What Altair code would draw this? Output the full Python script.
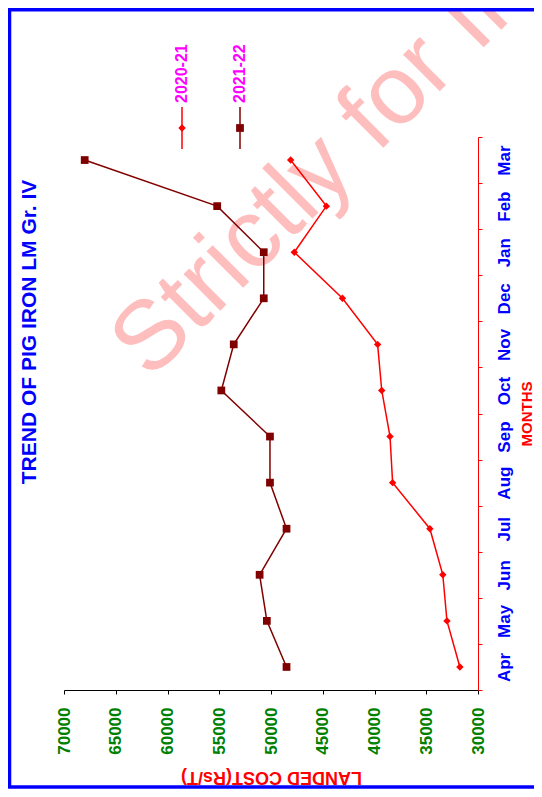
import altair as alt
import pandas as pd

months = ["Apr", "May", "Jun", "Jul", "Aug", "Sep", "Oct", "Nov", "Dec", "Jan", "Feb", "Mar"]
series_names = ["2020-21", "2021-22"]
cost_2020_21 = [31750, 33000, 33400, 34650, 38250, 38500, 39300, 39700, 43100, 47750, 44650, 48100]
cost_2021_22 = [48500, 50400, 51100, 48500, 50100, 50100, 54800, 53600, 50700, 50700, 55200, 68000]
cost_ticks = [30000, 35000, 40000, 45000, 50000, 55000, 60000, 65000, 70000]
series_colors = ["#FF0000", "#800000"]
series_shapes = ["diamond", "square"]

rows = []
for name, vals in zip(series_names, [cost_2020_21, cost_2021_22]):
    for i, (m, v) in enumerate(zip(months, vals)):
        rows.append({"Series": name, "Month": m, "Idx": i, "Cost": v})
df = pd.DataFrame(rows)

W, H = 414, 553
PL, PT, PR, PB = 56, 129, 56, 99
FONT = "Liberation Sans"

xenc = alt.X("Cost:Q",
             scale=alt.Scale(domain=[30000, 70000], reverse=True, nice=False, zero=False),
             axis=alt.Axis(values=cost_ticks, format="d", labelAngle=270, labelAlign="right",
                           labelBaseline="middle", labelColor="#008000", labelFontSize=17,
                           labelFontWeight="bold", labelPadding=13, tickSize=4, tickColor="black",
                           domainColor="black", grid=False, title="LANDED COST(Rs/T)",
                           titleAngle=180, titleColor="#FF0000", titleFontSize=18,
                           titleFontWeight="bold", titlePadding=31))
yenc = alt.Y("Month:O", sort=list(reversed(months)),
             scale=alt.Scale(type="band", paddingInner=0, paddingOuter=0),
             axis=alt.Axis(orient="right", labelAngle=270, labelAlign="center", labelBaseline="top",
                           labelColor="#0000FF", labelFontSize=17, labelFontWeight="bold",
                           labelPadding=14, tickSize=4, tickColor="#FF0000", domainColor="#FF0000",
                           tickBand="extent", grid=False, title="MONTHS", titleAngle=270,
                           titleColor="#FF0000", titleFontSize=15, titleFontWeight="bold",
                           titlePadding=22))
color = alt.Color("Series:N", scale=alt.Scale(domain=series_names, range=series_colors), legend=None)
shape = alt.Shape("Series:N", scale=alt.Scale(domain=series_names, range=series_shapes), legend=None)

base = alt.Chart(df)

watermark = alt.Chart(pd.DataFrame({"t": ["Strictly for Internal Use"]})).mark_text(
    font=FONT, fontSize=98, angle=315, align="left", baseline="alphabetic", color="#FFBEBE"
).encode(x=alt.value(86), y=alt.value(244), text="t:N")

lines = base.mark_line(strokeWidth=1.5).encode(x=xenc, y=yenc, color=color, order="Idx:Q", detail="Series:N")
points = base.mark_point(filled=True, opacity=1).encode(
    x="Cost:Q", y=alt.Y("Month:O", sort=list(reversed(months))), color=color, shape=shape,
    size=alt.Size("Series:N", scale=alt.Scale(domain=series_names, range=[55, 60]), legend=None))

title = alt.Chart(pd.DataFrame({"t": ["TREND OF PIG IRON LM Gr. IV"]})).mark_text(
    font=FONT, fontSize=21, fontWeight="bold", angle=270, align="center", baseline="middle",
    color="#0000FF").encode(x=alt.value(-34), y=alt.value(195), text="t:N")

legend_layers = []
legend_x = [118, 176]
legend_size = [55, 60]
for name, lx, col, shp, sz in zip(series_names, legend_x, series_colors, series_shapes, legend_size):
    ld = pd.DataFrame({"t": [name]})
    legend_layers.append(alt.Chart(ld).mark_rule(color=col, strokeWidth=1.5).encode(
        x=alt.value(lx), y=alt.value(-30), y2=alt.value(12)))
    legend_layers.append(alt.Chart(ld).mark_point(filled=True, opacity=1, color=col, shape=shp, size=sz).encode(
        x=alt.value(lx), y=alt.value(-9)))
    legend_layers.append(alt.Chart(ld).mark_text(
        font=FONT, fontSize=16, fontWeight="bold", angle=270, align="left", baseline="middle",
        color="#FF00FF").encode(x=alt.value(lx), y=alt.value(-34), text="t:N"))

# frame: top, left and bottom edges (right edge lies outside the picture)
bx0, bx1 = -PL + 1.5, W + PR + 10
by0, by1 = -PT + 1.75, H + PB - 2
bd = pd.DataFrame({"t": [0]})
frame = [
    alt.Chart(bd).mark_rule(color="#0000FF", strokeWidth=3.5).encode(
        x=alt.value(bx0 - 1.75), x2=alt.value(bx1), y=alt.value(by0)),
    alt.Chart(bd).mark_rule(color="#0000FF", strokeWidth=3.5).encode(
        x=alt.value(bx0 - 1.75), x2=alt.value(bx1), y=alt.value(by1)),
    alt.Chart(bd).mark_rule(color="#0000FF", strokeWidth=3.5).encode(
        x=alt.value(bx0), y=alt.value(by0), y2=alt.value(by1)),
]

chart = alt.layer(watermark, lines, points, title, *legend_layers, *frame).properties(
    width=W, height=H,
    autosize=alt.AutoSizeParams(type="none"),
    padding={"left": PL, "top": PT, "right": PR, "bottom": PB},
    background="white",
).configure(font=FONT).configure_view(strokeWidth=0)

chart.save("out.html", embed_options={"renderer": "svg", "actions": False})
